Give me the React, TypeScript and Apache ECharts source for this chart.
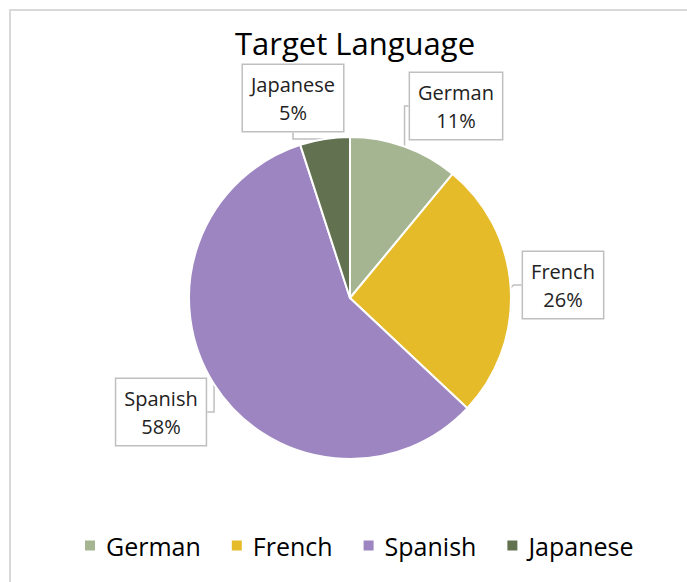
import React, { useEffect, useRef } from "react";
import * as echarts from "echarts";

const categories = ["German", "French", "Spanish", "Japanese"];
const values = [11, 26, 58, 5];
const colors = ["#a5b592", "#e6bb29", "#9c85c1", "#627150"];
const labelCenters: [number, number][] = [
  [456, 106],
  [563, 285],
  [161, 412],
  [293, 98],
];

const FONT = "'Open Sans', 'Liberation Sans', sans-serif";

export default function App() {
  const ref = useRef<HTMLDivElement>(null);
  useEffect(() => {
    if (!ref.current) return;
    const chart = echarts.init(ref.current, undefined, { renderer: "svg" });
    chart.setOption({
      animation: false,
      backgroundColor: "#ffffff",
      title: {
        text: "Target Language",
        left: 230,
        top: 22,
        textStyle: { fontFamily: FONT, fontSize: 31, fontWeight: "normal", color: "#000" },
      },
      legend: {
        bottom: 19,
        left: 78,
        itemWidth: 12,
        itemHeight: 12,
        itemGap: 29,
        icon: "rect",
        textStyle: { fontFamily: FONT, fontSize: 25, color: "#000", padding: [0, 0, 0, 5] },
        data: categories,
      },
      graphic: [
        {
          type: "rect",
          shape: { x: 10, y: 10, width: 720, height: 620 },
          style: { fill: "none", stroke: "#d9d9d9", lineWidth: 2 },
          silent: true,
          z: 100,
        },
      ],
      series: [
        {
          type: "pie",
          center: [350, 298],
          radius: 161,
          startAngle: 90,
          clockwise: true,
          percentPrecision: 0,
          itemStyle: { borderColor: "#ffffff", borderWidth: 2 },
          label: {
            show: true,
            formatter: "{b}\n{d}%",
            fontFamily: FONT,
            fontSize: 20,
            lineHeight: 28,
            color: "#222",
            align: "center",
            backgroundColor: "#ffffff",
            borderColor: "#bfbfbf",
            borderWidth: 1.5,
            padding: [5, 8, 5, 8],
          },
          labelLine: { show: true, length: 8, length2: 8, lineStyle: { color: "#bfbfbf", width: 1.5 } },
          labelLayout: (params: any) => {
            const c = labelCenters[params.dataIndex];
            return { x: c[0], y: c[1], align: "center", verticalAlign: "middle" };
          },
          data: categories.map((name, i) => ({
            name,
            value: values[i],
            itemStyle: { color: colors[i] },
          })),
        },
      ],
    });
    return () => chart.dispose();
  }, []);
  return (
    <div
      ref={ref}
      style={{ position: "fixed", left: 0, top: 0, width: 687, height: 582 }}
    />
  );
}
